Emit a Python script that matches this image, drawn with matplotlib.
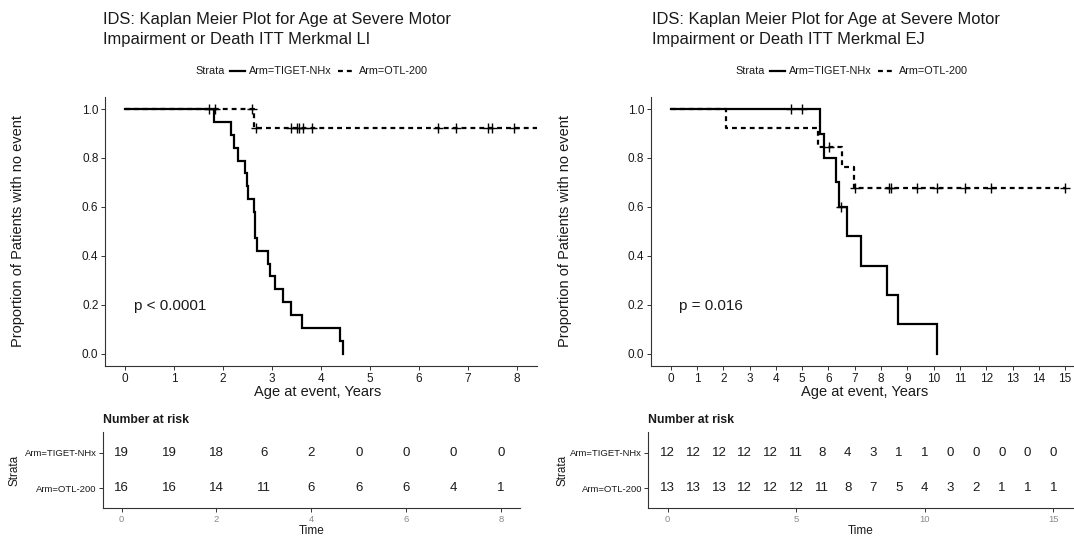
import matplotlib
matplotlib.use("Agg")
import matplotlib.pyplot as plt
from matplotlib.lines import Line2D
import numpy as np

plt.rcParams["font.family"] = ["Liberation Sans", "DejaVu Sans"]

# ---------------- data ----------------
# Merkmal LI: observed ages (years); 1 = event, 0 = censored
li_tiget_time = [1.82, 2.16, 2.23, 2.31, 2.44, 2.48, 2.52, 2.64, 2.65, 2.66, 2.69,
                 2.91, 2.95, 3.06, 3.22, 3.38, 3.62, 4.39, 4.45]
li_tiget_event = [1] * 19
li_otl_time = [1.72, 1.84, 2.59, 2.63, 2.67, 3.38, 3.50, 3.56, 3.64, 3.82,
               6.38, 6.76, 7.40, 7.48, 7.93, 8.60]
li_otl_event = [0, 0, 0, 1, 0, 0, 0, 0, 0, 0, 0, 0, 0, 0, 0, 0]

# Merkmal EJ
ej_tiget_time = [4.56, 5.01, 5.68, 5.83, 6.28, 6.41, 6.46, 6.69, 7.23, 8.22, 8.66, 10.14]
ej_tiget_event = [0, 0, 1, 1, 1, 1, 0, 1, 1, 1, 1, 1]
ej_otl_time = [2.09, 5.62, 6.02, 6.53, 6.97, 7.01, 8.30, 8.38, 9.36, 10.12, 11.20, 12.17, 15.0]
ej_otl_event = [1, 1, 0, 1, 1, 0, 0, 0, 0, 0, 0, 0, 0]

# number at risk tables
li_risk_times = [0, 1, 2, 3, 4, 5, 6, 7, 8]
li_risk_tiget = [19, 19, 18, 6, 2, 0, 0, 0, 0]
li_risk_otl = [16, 16, 14, 11, 6, 6, 6, 4, 1]

ej_risk_times = list(range(16))
ej_risk_tiget = [12, 12, 12, 12, 12, 11, 8, 4, 3, 1, 1, 0, 0, 0, 0, 0]
ej_risk_otl = [13, 13, 13, 12, 12, 12, 11, 8, 7, 5, 4, 3, 2, 1, 1, 1]

li_title = ["IDS: Kaplan Meier Plot for Age at Severe Motor",
            "Impairment or Death ITT Merkmal LI"]
ej_title = ["IDS: Kaplan Meier Plot for Age at Severe Motor",
            "Impairment or Death ITT Merkmal EJ"]
li_pval = "p < 0.0001"
ej_pval = "p = 0.016"
arm_labels = ["Arm=TIGET-NHx", "Arm=OTL-200"]


def km(times, events):
    """Kaplan-Meier estimate: step coordinates and censor mark positions."""
    t = np.asarray(times, float)
    e = np.asarray(events, int)
    xs, ys = [0.0], [1.0]
    s = 1.0
    cx, cy = [], []
    for u in np.unique(t):
        n = np.sum(t >= u)
        d = np.sum((t == u) & (e == 1))
        if d > 0:
            s *= 1.0 - d / n
            xs.append(u)
            ys.append(s)
        c = np.sum((t == u) & (e == 0))
        if c > 0:
            cx.append(u)
            cy.append(s)
    xs.append(t.max())
    ys.append(s)
    return np.array(xs), np.array(ys), cx, cy


W, H = 1074, 536
fig = plt.figure(figsize=(W / 100, H / 100), dpi=100)


def fx(px):
    return px / W


def fy(py):
    return 1 - py / H


TXT = "#1a1a1a"
SPINE = "#333333"
DASH = (0, (2.2, 1.8))


def style_axes(ax):
    for s in ("top", "right"):
        ax.spines[s].set_visible(False)
    for s in ("left", "bottom"):
        ax.spines[s].set_color(SPINE)
        ax.spines[s].set_linewidth(0.8)
    ax.tick_params(direction="out", length=3, width=0.7, color=SPINE)


def panel(x0, x1, xmax, xticks, curves, title, pval, pval_x, risk_times,
          risk_rows, tx0, tx1, rticks, title_x, legend_x, ylab_x):
    # survival panel
    ax = fig.add_axes([fx(x0), fy(366), fx(x1 - x0), fy(96.8) - fy(366)])
    style_axes(ax)
    ax.set_xlim(-0.05 * xmax, 1.05 * xmax)
    ax.set_ylim(-0.05, 1.05)
    for (times, events), dash in zip(curves, [False, True]):
        xs, ys, cx, cy = km(times, events)
        ax.step(xs, ys, where="post", color="black", lw=1.6,
                linestyle=DASH if dash else "-", solid_joinstyle="miter")
        ax.plot(cx, cy, linestyle="none", marker="+", ms=6.5, mew=1.0,
                color="black")
    ax.set_xticks(xticks)
    ax.set_yticks([0, 0.2, 0.4, 0.6, 0.8, 1.0])
    ax.set_yticklabels(["0.0", "0.2", "0.4", "0.6", "0.8", "1.0"])
    ax.tick_params(labelsize=8.5, labelcolor=TXT, pad=2)
    ax.text(pval_x, 0.196, pval, fontsize=11, color=TXT,
            va="center", ha="left")
    fig.text(fx((x0 + x1) / 2 - 3), fy(392), "Age at event, Years",
             fontsize=10.5, color=TXT, ha="center", va="center")
    fig.text(fx(ylab_x), fy(231), "Proportion of Patients with no event",
             fontsize=10.5, color=TXT, ha="center", va="center", rotation=90)

    # title
    fig.text(fx(title_x), fy(24), title[0], fontsize=11.9, color=TXT,
             ha="left", va="baseline")
    fig.text(fx(title_x), fy(44), title[1], fontsize=11.9, color=TXT,
             ha="left", va="baseline")

    # legend
    ly = fy(71)
    fig.text(fx(legend_x), ly, "Strata", fontsize=7.8, color=TXT,
             ha="left", va="center")
    fig.add_artist(Line2D([fx(legend_x + 35), fx(legend_x + 50)], [ly, ly],
                          color="black", lw=1.6))
    fig.text(fx(legend_x + 54), ly, arm_labels[0], fontsize=7.8, color=TXT,
             ha="left", va="center")
    fig.add_artist(Line2D([fx(legend_x + 143), fx(legend_x + 158)], [ly, ly],
                          color="black", lw=1.6, linestyle=DASH))
    fig.text(fx(legend_x + 164), ly, arm_labels[1], fontsize=7.8, color=TXT,
             ha="left", va="center")

    # number at risk table
    tab = fig.add_axes([fx(tx0), fy(507.7), fx(tx1 - tx0), fy(431.7) - fy(507.7)])
    style_axes(tab)
    tab.set_xlim(-0.05 * xmax, 1.05 * xmax)
    tab.set_ylim(-0.545, 1.59)
    for row, vals in zip([1, 0], risk_rows):
        for t, v in zip(risk_times, vals):
            tab.text(t, row, str(v), fontsize=9.5, color=TXT,
                     ha="center", va="center")
    tab.set_yticks([1, 0])
    tab.set_yticklabels(arm_labels)
    tab.tick_params(axis="y", labelsize=6.8, labelcolor=TXT, pad=1.5)
    tab.set_xticks(rticks)
    tab.tick_params(axis="x", labelsize=6.8, labelcolor="#8a8a8a", pad=2)
    fig.text(fx(tx0), fy(420), "Number at risk", fontsize=8.8,
             fontweight="bold", color=TXT, ha="left", va="center")
    fig.text(fx((tx0 + tx1) / 2), fy(531), "Time", fontsize=8.5, color=TXT,
             ha="center", va="center")
    fig.text(fx(ylab_x - 3), fy(470), "Strata", fontsize=8.5, color=TXT,
             ha="center", va="center", rotation=90)


panel(105.4, 536.6, 8, list(range(9)),
      [(li_tiget_time, li_tiget_event), (li_otl_time, li_otl_event)],
      li_title, li_pval, 0.18, li_risk_times, [li_risk_tiget, li_risk_otl],
      102.7, 519.9, [0, 2, 4, 6, 8], 103, 195, 18)

panel(651.0, 1084.8, 15, list(range(16)),
      [(ej_tiget_time, ej_tiget_event), (ej_otl_time, ej_otl_event)],
      ej_title, ej_pval, 0.33, ej_risk_times, [ej_risk_tiget, ej_risk_otl],
      648.4, 1072.5, [0, 5, 10, 15], 652, 735, 565)

fig.savefig("out.png", dpi=100, facecolor="white")
